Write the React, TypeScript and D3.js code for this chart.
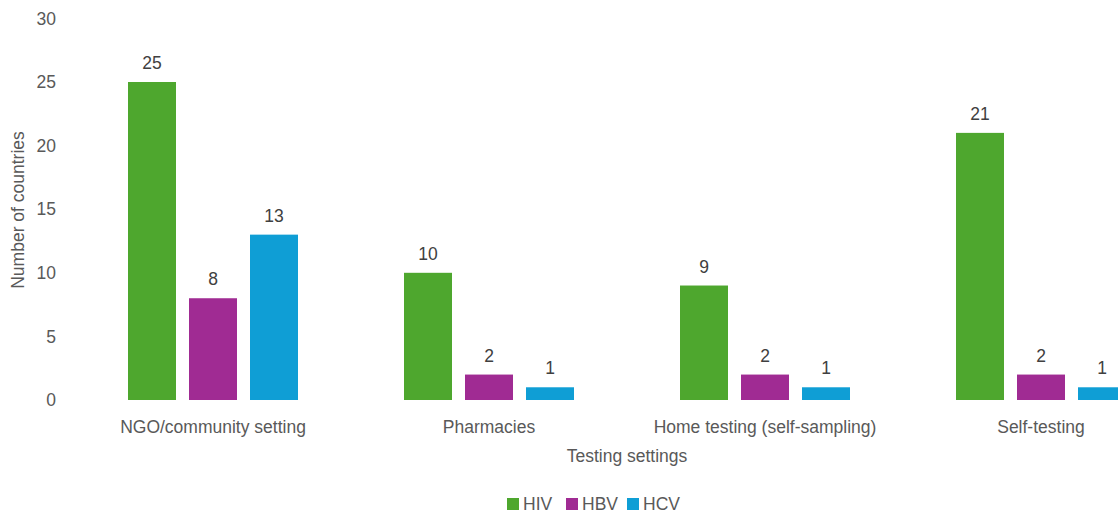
import React from "react";
import * as d3 from "d3";

const categories = ["NGO/community setting", "Pharmacies", "Home testing (self-sampling)", "Self-testing"];
const seriesNames = ["HIV", "HBV", "HCV"];
const hivValues = [25, 10, 9, 21];
const hbvValues = [8, 2, 2, 2];
const hcvValues = [13, 1, 1, 1];
const seriesColors = ["#4EA72E", "#A02B93", "#0F9ED5"];
const yTicks = [0, 5, 10, 15, 20, 25, 30];

const W = 1118;
const H = 513;
const FONT = "'Liberation Sans', Arial, sans-serif";
const TXT = "#595959";
const FS = 17.5;

export default function App() {
  const values = [hivValues, hbvValues, hcvValues];
  const x0 = d3.scaleBand<string>().domain(categories).range([75, 1179]).paddingInner(0).paddingOuter(0);
  const step = x0.bandwidth();
  const x1 = d3.scaleBand<string>().domain(seriesNames).range([53, step - 53]).paddingInner(13 / 61).paddingOuter(0);
  const y = d3.scaleLinear().domain([0, 30]).range([400, 18.4]);

  const legendX = [507, 566, 627];

  return (
    <div style={{ position: "fixed", left: 0, top: 0, width: W, height: H, background: "#fff" }}>
      <svg width={W} height={H} style={{ display: "block" }} fontFamily={FONT}>
        <rect width={W} height={H} fill="#fff" />
        {yTicks.map((t) => (
          <text key={t} x={56} y={y(t)} dy="0.35em" textAnchor="end" fontSize={FS} fill={TXT}>
            {t}
          </text>
        ))}
        <text
          transform={`translate(24,${210}) rotate(-90)`}
          textAnchor="middle"
          fontSize={FS}
          fill={TXT}
        >
          Number of countries
        </text>
        {categories.map((c, ci) => (
          <g key={c} transform={`translate(${x0(c)},0)`}>
            {seriesNames.map((s, si) => {
              const v = values[si][ci];
              const bx = x1(s)!;
              return (
                <g key={s}>
                  <rect x={bx} y={y(v)} width={x1.bandwidth()} height={y(0) - y(v)} fill={seriesColors[si]} />
                  <text
                    x={bx + x1.bandwidth() / 2}
                    y={y(v) - 13}
                    textAnchor="middle"
                    fontSize={FS}
                    fill="#404040"
                  >
                    {v}
                  </text>
                </g>
              );
            })}
            <text x={step / 2} y={427} dy="0.35em" textAnchor="middle" fontSize={FS} fill={TXT}>
              {c}
            </text>
          </g>
        ))}
        <text x={627} y={456} dy="0.35em" textAnchor="middle" fontSize={FS} fill={TXT}>
          Testing settings
        </text>
        {seriesNames.map((s, si) => (
          <g key={s}>
            <rect x={legendX[si]} y={498} width={12} height={12} fill={seriesColors[si]} />
            <text x={legendX[si] + 16} y={504} dy="0.35em" fontSize={FS} fill={TXT}>
              {s}
            </text>
          </g>
        ))}
      </svg>
    </div>
  );
}
